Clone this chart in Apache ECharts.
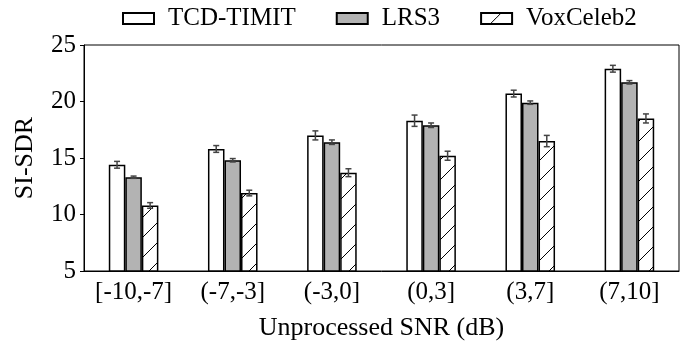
<!DOCTYPE html>
<html>
<head>
<meta charset="utf-8">
<script src="https://cdn.jsdelivr.net/npm/echarts@6/dist/echarts.min.js"></script>
<style>
  html, body { margin: 0; padding: 0; background: #fff; }
  #chart { width: 694px; height: 341px; }
</style>
</head>
<body>
<div id="chart"></div>
<script>
const categories = ['[-10,-7]', '(-7,-3]', '(-3,0]', '(0,3]', '(3,7]', '(7,10]'];
const seriesNames = ['TCD-TIMIT', 'LRS3', 'VoxCeleb2'];
const tcdValues = [14.4, 15.8, 17.0, 18.3, 20.7, 22.9];
const lrsValues = [13.3, 14.8, 16.4, 17.9, 19.9, 21.7];
const voxValues = [10.8, 11.9, 13.7, 15.2, 16.5, 18.5];
const tcdErrors = [0.3, 0.3, 0.4, 0.5, 0.3, 0.3];
const lrsErrors = [0.1, 0.15, 0.2, 0.2, 0.15, 0.15];
const voxErrors = [0.25, 0.25, 0.35, 0.4, 0.5, 0.4];

const FONT = 'Liberation Serif';
const GAP = 0.5; // category gap fraction

// hatch pattern for VoxCeleb2
function hatch() {
  const c = document.createElement('canvas');
  c.width = 20; c.height = 20;
  const ctx = c.getContext('2d');
  ctx.fillStyle = '#fff';
  ctx.fillRect(0, 0, 20, 20);
  ctx.strokeStyle = '#000';
  ctx.lineWidth = 1;
  ctx.beginPath();
  ctx.moveTo(0, 20); ctx.lineTo(20, 0);
  ctx.moveTo(-2, 2); ctx.lineTo(2, -2);
  ctx.moveTo(18, 22); ctx.lineTo(22, 18);
  ctx.stroke();
  return c;
}

const values = [tcdValues, lrsValues, voxValues];
const errors = [tcdErrors, lrsErrors, voxErrors];
const fills = ['#ffffff', '#b3b3b3', { image: hatch(), repeat: 'repeat' }];

const errData = [];
values.forEach((vals, s) => {
  vals.forEach((v, i) => errData.push([i, v, errors[s][i], s]));
});

const myChart = echarts.init(document.getElementById('chart'));

const barSeries = seriesNames.map((name, s) => ({
  name: name,
  type: 'bar',
  data: values[s],
  barGap: '0%',
  barCategoryGap: (GAP * 100) + '%',
  itemStyle: {
    color: fills[s],
    borderColor: '#000',
    borderWidth: 1.5
  }
}));

myChart.setOption({
  animation: false,
  textStyle: { fontFamily: FONT },
  legend: {
    top: 6,
    left: 122,
    padding: 0,
    icon: 'rect',
    itemWidth: 31,
    itemHeight: 11,
    itemGap: 40,
    textStyle: { fontFamily: FONT, fontSize: 25, color: '#000', padding: [0, 0, 0, 9] },
    data: seriesNames
  },
  grid: {
    left: 84,
    right: 15,
    top: 45,
    bottom: 70,
    outerBoundsMode: 'none',
    show: true,
    borderColor: '#000',
    borderWidth: 1
  },
  xAxis: {
    type: 'category',
    data: categories,
    name: 'Unprocessed SNR (dB)',
    nameLocation: 'middle',
    nameGap: 44,
    nameTextStyle: { fontFamily: FONT, fontSize: 26, color: '#000' },
    axisLine: { lineStyle: { color: '#000', width: 1 } },
    axisTick: { alignWithLabel: true, length: 5, lineStyle: { color: '#000' } },
    axisLabel: { interval: 0, fontFamily: FONT, fontSize: 25, color: '#000', margin: 9 }
  },
  yAxis: {
    type: 'value',
    min: 5,
    max: 25,
    interval: 5,
    name: 'SI-SDR',
    nameLocation: 'middle',
    nameGap: 46,
    nameTextStyle: { fontFamily: FONT, fontSize: 26, color: '#000' },
    axisLine: { show: true, lineStyle: { color: '#000', width: 1 } },
    axisTick: { show: true, length: 4, lineStyle: { color: '#000' } },
    splitLine: { show: false },
    axisLabel: { fontFamily: FONT, fontSize: 25, color: '#000', margin: 8 }
  },
  series: barSeries.concat([{
    type: 'custom',
    z: 10,
    silent: true,
    data: errData,
    renderItem: function (params, api) {
      const i = api.value(0), v = api.value(1), e = api.value(2), s = api.value(3);
      const band = api.size([1, 0])[0];
      const barW = band * (1 - GAP) / 3;
      const cx = api.coord([i, v])[0] + (s - 1) * barW;
      const yt = api.coord([i, v + e])[1];
      const yb = api.coord([i, v - e])[1];
      const cap = 3;
      const style = { stroke: '#444', lineWidth: 1.5 };
      return {
        type: 'group',
        children: [
          { type: 'line', shape: { x1: cx, y1: yt, x2: cx, y2: yb }, style: style },
          { type: 'line', shape: { x1: cx - cap, y1: yt, x2: cx + cap, y2: yt }, style: style },
          { type: 'line', shape: { x1: cx - cap, y1: yb, x2: cx + cap, y2: yb }, style: style }
        ]
      };
    }
  }])
});
</script>
</body>
</html>
